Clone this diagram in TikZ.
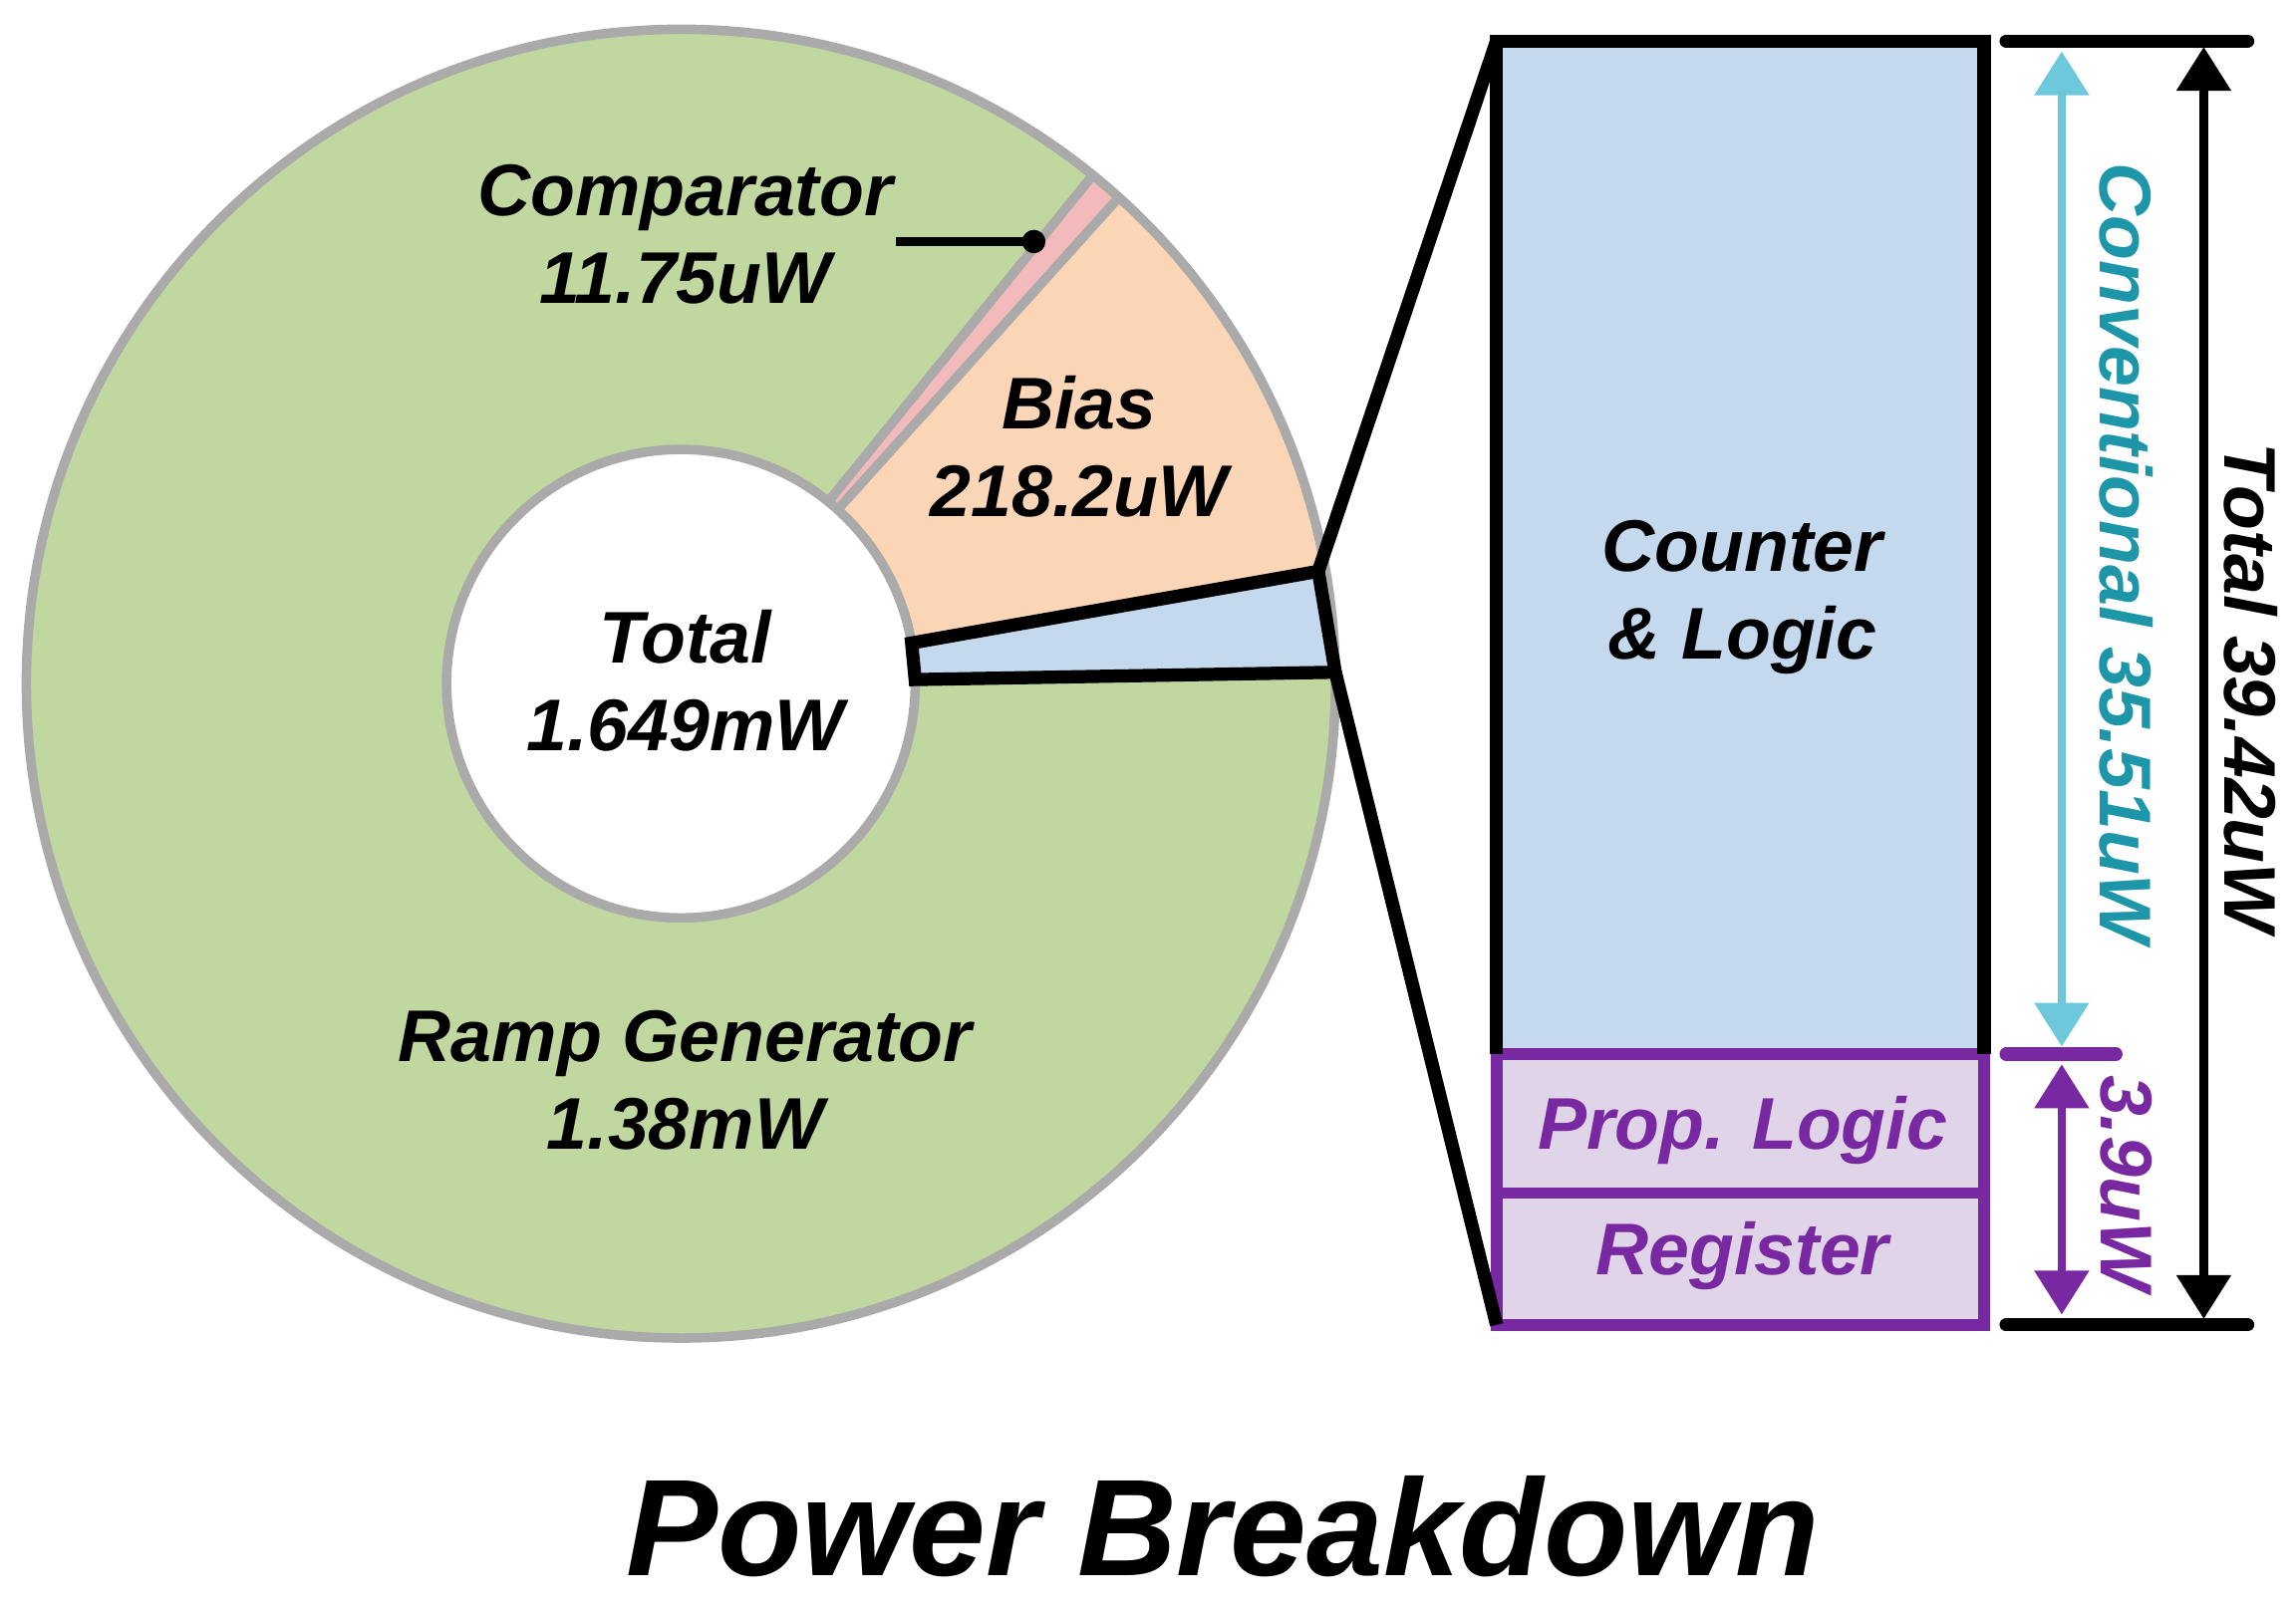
\documentclass[tikz,border=0pt]{standalone}
\usepackage{fontspec}
\setmainfont{Liberation Sans}
\usetikzlibrary{arrows.meta}
\definecolor{rampg}{RGB}{192,216,160}
\definecolor{biasc}{RGB}{251,214,182}
\definecolor{compc}{RGB}{242,186,186}
\definecolor{blueb}{RGB}{196,216,238}
\definecolor{purp}{RGB}{120,40,160}
\definecolor{lpurp}{RGB}{224,212,232}
\definecolor{cyanA}{RGB}{110,200,220}
\definecolor{tealT}{RGB}{30,150,170}
\definecolor{grayO}{RGB}{170,170,170}
\newcommand\myseg[3]{\fill[#3] ([shift={(#1:160)}]c) -- ([shift={(#1:447)}]c) arc[start angle=#1,end angle=#2,radius=447] -- ([shift={(#2:160)}]c) arc[start angle=#2,end angle=#1,radius=160] -- cycle;}
\tikzset{lbl/.style={font=\fontsize{50}{60}\selectfont\bfseries\itshape,align=center},
 zoomline/.style={line width=9pt,black}}
\begin{document}
\begin{tikzpicture}[x=1pt,y=1pt]
\useasboundingbox (0,0) rectangle (1568,-1099);
\coordinate (c) at (465,-467);
\myseg{51}{361}{rampg}
\myseg{48}{51}{compc}
\myseg{10}{48}{biasc}
\draw[grayO,line width=6.5pt] (c) circle[radius=447];
\draw[grayO,line width=6.5pt] (c) circle[radius=160];
\draw[grayO,line width=6.5pt] ([shift={(48:160)}]c) -- ([shift={(48:447)}]c);
\draw[grayO,line width=6.5pt] ([shift={(51:160)}]c) -- ([shift={(51:447)}]c);
\coordinate (w1) at ([shift={(10:160)}]c);
\coordinate (w2) at ([shift={(10:442)}]c);
\coordinate (w3) at ([shift={(1:447)}]c);
\coordinate (w4) at ([shift={(1:160)}]c);
\filldraw[fill=blueb,draw=black,line width=9pt,line join=miter] (w1) -- (w2) -- (w3) -- (w4) -- cycle;
% bar
\fill[blueb] (1022,-28) rectangle (1355,-720);
\filldraw[fill=lpurp,draw=purp,line width=8pt] (1022,-720) rectangle (1355,-815);
\filldraw[fill=lpurp,draw=purp,line width=8pt] (1022,-815) rectangle (1355,-905);
\draw[black,line width=9pt] (1022,-720) -- (1022,-28) -- (1355,-28) -- (1355,-720);
\coordinate (b1) at (1022,-28);
\coordinate (b2) at (1022,-905);
\draw[zoomline] (w2) -- (b1);
\draw[zoomline] (w3) -- (b2);
% right annotations
\coordinate (t1a) at (1370,-28); \coordinate (t1b) at (1535,-28);
\coordinate (t2a) at (1370,-905); \coordinate (t2b) at (1535,-905);
\coordinate (t3a) at (1370,-720); \coordinate (t3b) at (1445,-720);
\draw[line width=9pt,line cap=round] (t1a) -- (t1b);
\draw[line width=9pt,line cap=round] (t2a) -- (t2b);
\draw[purp,line width=9pt,line cap=round] (t3a) -- (t3b);
\coordinate (ba) at (1505,-32); \coordinate (bb) at (1505,-901);
\draw[line width=6pt,{Triangle[length=30pt,width=36pt]}-{Triangle[length=30pt,width=36pt]}] (ba) -- (bb);
\coordinate (ca) at (1408,-35); \coordinate (cb) at (1408,-715);
\draw[cyanA,line width=6pt,{Triangle[length=30pt,width=36pt]}-{Triangle[length=30pt,width=36pt]}] (ca) -- (cb);
\coordinate (pa) at (1408,-727); \coordinate (pb) at (1408,-898);
\draw[purp,line width=6pt,{Triangle[length=30pt,width=36pt]}-{Triangle[length=30pt,width=36pt]}] (pa) -- (pb);
\node[lbl,tealT,rotate=-90] (conv) at (1452,-378) {Conventional 35.51uW};
\node[lbl,rotate=-90] (tot) at (1537,-470) {Total 39.42uW};
\node[lbl,purp,rotate=-90] (p39) at (1452,-808) {3.9uW};
% labels
\node[lbl] (comp) at (468,-160) {Comparator\\11.75uW};
\coordinate (ld1) at (612,-165); \coordinate (ld2) at (706,-165);
\draw[line width=6pt] (ld1) -- (ld2);
\fill (ld2) circle[radius=8];
\node[lbl] (bias) at (737,-305) {Bias\\218.2uW};
\node[lbl] (total) at (468,-465) {Total\\1.649mW};
\node[lbl] (ramp) at (468,-738) {Ramp Generator\\1.38mW};
\node[lbl] (cnt) at (1190,-408) {Counter\\\& Logic};
\node[lbl,purp] (prop) at (1190,-772) {Prop. Logic};
\node[lbl,purp] (reg) at (1190,-858) {Register};
\node[font=\fontsize{94}{100}\selectfont\bfseries\itshape] (title) at (835,-1043) {Power Breakdown};
\end{tikzpicture}
\end{document}
